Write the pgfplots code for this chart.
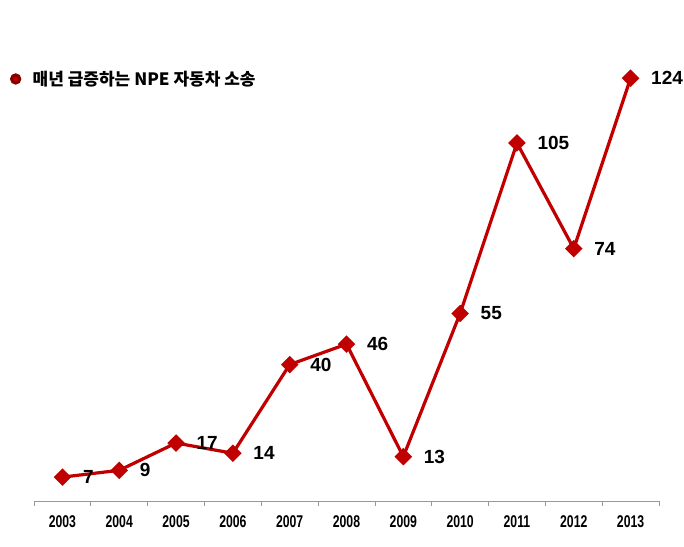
\documentclass[border=0pt]{standalone}
\usepackage{pgfplots}
\pgfplotsset{compat=1.18}
\usepackage{fontspec}
\setmainfont{Liberation Sans}
\newfontfamily\narrowbf{Liberation Sans}[FakeStretch=0.72]
\newfontfamily\kr{Noto Sans CJK KR}
\definecolor{lred}{RGB}{192,0,0}
\begin{document}
\begin{tikzpicture}
\path[use as bounding box] (0bp,0bp) rectangle (684bp,547bp);
\begin{axis}[
    at={(34bp,46bp)}, anchor=south west,
    scale only axis, width=625bp, height=477.4bp,
    xmin=-0.5, xmax=10.5, ymin=0, ymax=140,
    hide y axis, axis x line*=bottom,
    x axis line style={draw=gray!80, line width=0.8bp, -},
    xtick={0,...,10},
    xticklabels={2003,2004,2005,2006,2007,2008,2009,2010,2011,2012,2013},
    major x tick style={draw=none},
    minor xtick={-0.5,0.5,...,10.5},
    minor x tick style={draw=gray!80, line width=0.8bp},
    minor tick length=5bp,
    tick align=outside,
    xticklabel style={font=\narrowbf\bfseries\fontsize{17bp}{17bp}\selectfont, yshift=-7bp},
    /pgf/number format/assume math mode=true,
    clip=false,
    nodes near coords,
    every node near coord/.append style={anchor=west, inner sep=0pt, xshift=19bp,
        font=\bfseries\fontsize{19bp}{19bp}\selectfont, text=black},
    legend style={at={(-0.0386,0.884)}, anchor=west, draw=none, fill=none, inner sep=0pt,
        font=\kr\bfseries\fontsize{17bp}{17bp}\selectfont},
    legend image code/.code={\draw[lred!70!black, fill=lred] (0bp,0bp) circle (4bp);
        \path[draw=none, fill=none] (-4bp,0bp) rectangle (15bp,0.1bp);},
]
\addplot[lred, line width=3.2bp, mark=square*, mark size=4.6bp,
    mark options={rotate=45, fill=lred, draw=lred}]
    coordinates {(0,7) (1,9) (2,17) (3,14) (4,40) (5,46) (6,13) (7,55) (8,105) (9,74) (10,124)};
\addlegendentry{매년 급증하는 NPE 자동차 소송}
\end{axis}
\end{tikzpicture}
\end{document}
